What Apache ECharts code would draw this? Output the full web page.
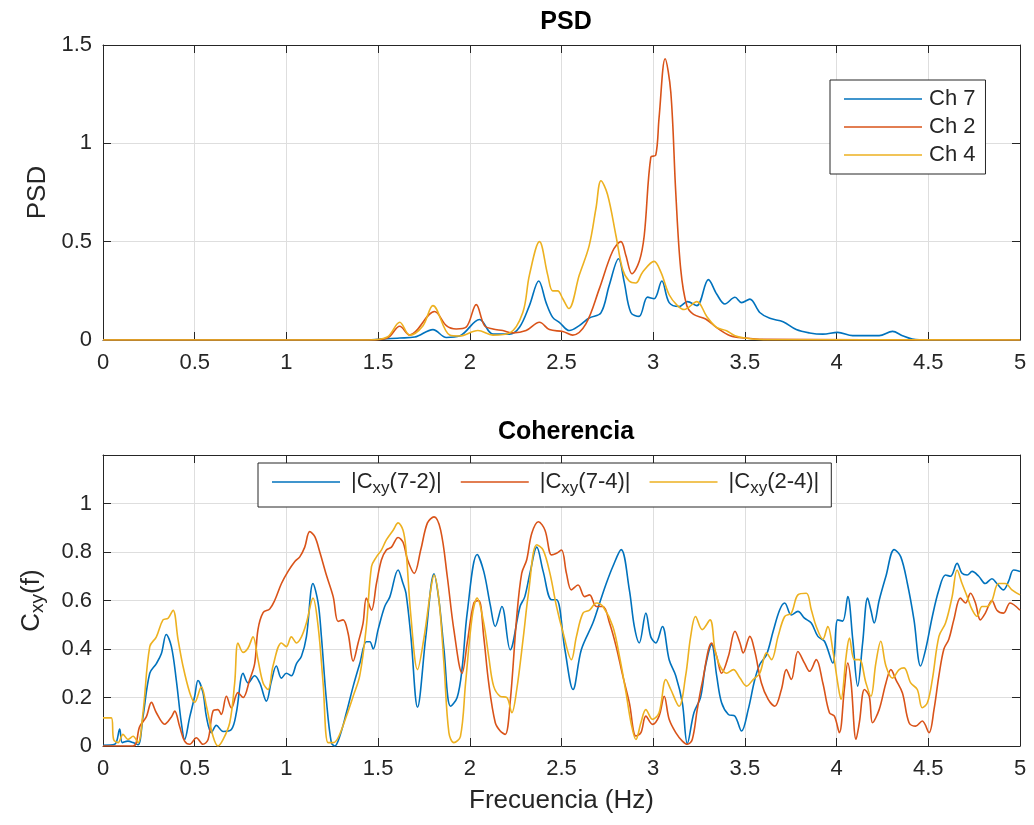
<!DOCTYPE html>
<html>
<head>
<meta charset="utf-8">
<script src="https://cdn.jsdelivr.net/npm/echarts@6/dist/echarts.min.js"></script>
<style>
html,body{margin:0;padding:0;background:#fff;}
#chart{width:1034px;height:825px;}
</style>
</head>
<body>
<div id="chart"></div>
<script>
// ---------- DATA ----------
const xTicks = [0, 0.5, 1, 1.5, 2, 2.5, 3, 3.5, 4, 4.5, 5];
const psdTicks = [0, 0.5, 1, 1.5];
const cohTicks = [0, 0.2, 0.4, 0.6, 0.8, 1];

const psdNames = ['Ch 7', 'Ch 2', 'Ch 4'];
const cohNames = ['|C_xy(7-2)|', '|C_xy(7-4)|', '|C_xy(2-4)|'];

// PSD Ch 7
const psdFreqCh7 = [0,1.40,1.618,1.70,1.799,1.872,1.944,2.053,2.126,2.216,2.271,2.325,2.376,2.416,2.452,2.488,2.543,2.597,2.651,2.715,2.76,2.811,2.842,2.878,2.923,2.969,3.005,3.047,3.087,3.141,3.186,3.238,3.301,3.346,3.391,3.446,3.482,3.527,3.581,3.636,3.708,3.78,3.853,3.925,4.006,4.088,4.16,4.232,4.305,4.359,4.413,4.5,5];
const psdValCh7  = [0,0,0.01,0.015,0.053,0.013,0.02,0.104,0.03,0.03,0.065,0.175,0.30,0.19,0.115,0.09,0.048,0.073,0.112,0.138,0.277,0.413,0.294,0.14,0.12,0.218,0.21,0.30,0.19,0.17,0.195,0.175,0.307,0.234,0.183,0.217,0.19,0.208,0.14,0.11,0.093,0.053,0.036,0.03,0.039,0.022,0.022,0.022,0.044,0.022,0.005,0,0];
// PSD Ch 2
const psdFreqCh2 = [0,1.45,1.55,1.618,1.672,1.808,1.872,1.926,1.98,2.035,2.08,2.126,2.18,2.235,2.307,2.38,2.434,2.507,2.561,2.633,2.706,2.778,2.824,2.851,2.884,2.924,2.951,2.987,3.014,3.032,3.065,3.096,3.123,3.15,3.183,3.22,3.286,3.35,3.42,3.5,3.6,5];
const psdValCh2  = [0,0,0.01,0.07,0.025,0.145,0.073,0.056,0.065,0.18,0.073,0.056,0.048,0.036,0.048,0.09,0.053,0.043,0.025,0.082,0.26,0.45,0.50,0.43,0.337,0.40,0.53,0.93,0.94,1.13,1.43,1.26,0.75,0.36,0.175,0.13,0.107,0.06,0.022,0.01,0.003,0];
// PSD Ch 4
const psdFreqCh4 = [0,1.45,1.55,1.618,1.672,1.745,1.799,1.89,1.944,2.044,2.126,2.216,2.289,2.325,2.38,2.425,2.452,2.479,2.507,2.54,2.597,2.651,2.688,2.715,2.751,2.797,2.833,2.869,2.905,2.942,3.005,3.042,3.087,3.132,3.169,3.238,3.292,3.346,3.4,3.446,3.5,3.6,5];
const psdValCh4  = [0,0,0.015,0.09,0.025,0.073,0.175,0.025,0.02,0.048,0.025,0.035,0.14,0.33,0.50,0.33,0.25,0.25,0.21,0.16,0.33,0.48,0.67,0.81,0.74,0.53,0.36,0.30,0.29,0.345,0.40,0.345,0.23,0.175,0.155,0.195,0.12,0.064,0.047,0.022,0.01,0.002,0];

// Coherence |Cxy(7-2)|
const cohFreq72 = [0,0.064,0.091,0.105,0.136,0.164,0.191,0.218,0.255,0.291,0.318,0.345,0.373,0.40,0.427,0.445,0.473,0.50,0.518,0.545,0.564,0.591,0.618,0.655,0.70,0.727,0.764,0.791,0.827,0.855,0.891,0.918,0.945,0.973,1.0,1.027,1.055,1.082,1.109,1.145,1.173,1.191,1.218,1.245,1.264,1.291,1.327,1.364,1.40,1.436,1.455,1.473,1.50,1.536,1.564,1.609,1.636,1.652,1.679,1.715,1.76,1.805,1.832,1.859,1.895,1.931,1.958,1.986,2.04,2.076,2.112,2.139,2.175,2.22,2.274,2.30,2.33,2.365,2.40,2.446,2.473,2.518,2.563,2.608,2.671,2.708,2.744,2.78,2.825,2.87,2.897,2.924,2.96,2.987,3.014,3.05,3.087,3.123,3.159,3.186,3.222,3.258,3.285,3.319,3.346,3.373,3.41,3.446,3.482,3.518,3.554,3.581,3.618,3.654,3.69,3.717,3.753,3.789,3.825,3.862,3.898,3.934,3.979,4.006,4.033,4.061,4.088,4.115,4.142,4.169,4.187,4.205,4.232,4.269,4.314,4.35,4.386,4.422,4.458,4.486,4.522,4.558,4.594,4.621,4.657,4.684,4.712,4.739,4.775,4.811,4.847,4.874,4.91,4.938,4.965,5.0];
const cohVal72  = [0.003,0.007,0.07,0.014,0.02,0.014,0.005,0.12,0.30,0.34,0.38,0.46,0.41,0.27,0.096,0.027,0.12,0.205,0.27,0.22,0.12,0.055,0.085,0.06,0.068,0.137,0.30,0.26,0.29,0.26,0.185,0.267,0.33,0.28,0.30,0.29,0.34,0.37,0.45,0.67,0.59,0.45,0.19,0.014,0.0,0.04,0.137,0.246,0.34,0.43,0.43,0.40,0.48,0.575,0.615,0.726,0.67,0.63,0.45,0.16,0.45,0.71,0.60,0.40,0.164,0.20,0.32,0.55,0.79,0.72,0.58,0.493,0.575,0.397,0.575,0.616,0.72,0.82,0.72,0.603,0.603,0.40,0.233,0.397,0.507,0.59,0.67,0.74,0.81,0.644,0.493,0.425,0.548,0.45,0.425,0.493,0.356,0.29,0.178,0.01,0.137,0.20,0.33,0.418,0.29,0.178,0.13,0.123,0.062,0.15,0.274,0.336,0.377,0.473,0.562,0.59,0.54,0.555,0.527,0.507,0.452,0.432,0.342,0.52,0.515,0.616,0.44,0.247,0.425,0.61,0.56,0.507,0.60,0.70,0.81,0.78,0.67,0.52,0.33,0.40,0.534,0.644,0.705,0.70,0.753,0.712,0.705,0.72,0.70,0.67,0.69,0.67,0.644,0.68,0.726,0.72];

// Coherence |Cxy(7-4)|
const cohFreq74 = [0,0.164,0.20,0.236,0.264,0.291,0.336,0.373,0.391,0.418,0.445,0.473,0.509,0.545,0.573,0.60,0.627,0.645,0.673,0.70,0.736,0.764,0.80,0.827,0.845,0.873,0.909,0.936,0.973,1.009,1.045,1.073,1.10,1.127,1.155,1.182,1.218,1.255,1.282,1.309,1.336,1.364,1.391,1.418,1.436,1.464,1.491,1.518,1.545,1.573,1.609,1.636,1.661,1.697,1.733,1.769,1.805,1.841,1.877,1.913,1.958,1.986,2.022,2.049,2.076,2.103,2.139,2.166,2.193,2.22,2.256,2.283,2.31,2.338,2.374,2.41,2.446,2.473,2.50,2.527,2.554,2.59,2.626,2.653,2.69,2.726,2.762,2.798,2.834,2.87,2.906,2.933,2.96,2.996,3.032,3.06,3.087,3.123,3.159,3.186,3.213,3.24,3.267,3.319,3.346,3.373,3.41,3.446,3.473,3.491,3.527,3.554,3.59,3.627,3.663,3.699,3.726,3.753,3.789,3.825,3.853,3.889,3.925,3.961,3.988,4.015,4.042,4.061,4.079,4.106,4.124,4.152,4.178,4.196,4.232,4.269,4.296,4.323,4.359,4.395,4.431,4.467,4.504,4.531,4.558,4.585,4.612,4.639,4.675,4.703,4.73,4.757,4.784,4.811,4.847,4.874,4.91,4.946,5.0];
const cohVal74  = [0.0,0.0,0.08,0.12,0.18,0.137,0.09,0.12,0.144,0.08,0.02,0.007,0.034,0.007,0.027,0.144,0.15,0.13,0.205,0.157,0.22,0.20,0.274,0.34,0.48,0.55,0.565,0.60,0.67,0.72,0.76,0.78,0.82,0.884,0.863,0.80,0.705,0.616,0.514,0.52,0.466,0.35,0.425,0.507,0.61,0.56,0.67,0.767,0.808,0.82,0.86,0.84,0.767,0.712,0.81,0.92,0.945,0.89,0.70,0.48,0.30,0.425,0.59,0.60,0.45,0.26,0.096,0.062,0.048,0.18,0.534,0.712,0.767,0.877,0.925,0.89,0.788,0.795,0.808,0.712,0.644,0.664,0.616,0.623,0.575,0.575,0.507,0.41,0.29,0.178,0.041,0.055,0.123,0.089,0.123,0.205,0.11,0.055,0.02,0.007,0.027,0.15,0.26,0.425,0.37,0.30,0.37,0.473,0.425,0.384,0.452,0.39,0.26,0.192,0.164,0.233,0.315,0.274,0.39,0.342,0.308,0.356,0.26,0.137,0.123,0.055,0.233,0.342,0.26,0.027,0.096,0.233,0.205,0.096,0.15,0.26,0.315,0.274,0.219,0.096,0.082,0.103,0.055,0.15,0.29,0.40,0.44,0.52,0.61,0.59,0.63,0.59,0.52,0.548,0.60,0.56,0.548,0.59,0.56];

// Coherence |Cxy(2-4)|
const cohFreq24 = [0,0.045,0.058,0.082,0.109,0.136,0.164,0.191,0.218,0.255,0.291,0.327,0.355,0.382,0.409,0.436,0.473,0.50,0.536,0.564,0.60,0.627,0.655,0.691,0.718,0.736,0.764,0.791,0.818,0.845,0.873,0.90,0.927,0.973,1.0,1.027,1.055,1.082,1.109,1.145,1.173,1.20,1.227,1.255,1.282,1.327,1.364,1.40,1.436,1.464,1.491,1.518,1.545,1.582,1.609,1.636,1.652,1.679,1.715,1.751,1.787,1.805,1.832,1.859,1.886,1.913,1.949,1.977,2.013,2.04,2.076,2.103,2.13,2.166,2.202,2.229,2.256,2.292,2.32,2.365,2.40,2.437,2.473,2.509,2.554,2.581,2.617,2.653,2.69,2.726,2.78,2.816,2.852,2.879,2.906,2.933,2.96,2.996,3.032,3.069,3.096,3.141,3.177,3.204,3.231,3.267,3.31,3.337,3.364,3.40,3.437,3.473,3.509,3.545,3.581,3.618,3.645,3.681,3.717,3.753,3.789,3.835,3.862,3.889,3.925,3.952,3.979,4.006,4.024,4.052,4.07,4.097,4.124,4.16,4.187,4.214,4.241,4.269,4.305,4.341,4.368,4.404,4.44,4.467,4.495,4.522,4.558,4.594,4.63,4.657,4.684,4.712,4.739,4.766,4.793,4.82,4.847,4.883,4.92,4.956,5.0];
const cohVal24  = [0.116,0.116,0.027,0.014,0.048,0.027,0.04,0.014,0.137,0.41,0.45,0.52,0.527,0.56,0.44,0.33,0.22,0.18,0.244,0.164,0.04,0.0,0.027,0.096,0.26,0.425,0.386,0.404,0.45,0.356,0.26,0.233,0.33,0.425,0.41,0.45,0.425,0.45,0.507,0.61,0.493,0.26,0.014,0.014,0.034,0.123,0.205,0.29,0.493,0.74,0.78,0.808,0.85,0.89,0.92,0.89,0.81,0.534,0.315,0.45,0.644,0.705,0.60,0.34,0.055,0.014,0.04,0.26,0.534,0.61,0.507,0.37,0.247,0.205,0.20,0.137,0.233,0.45,0.63,0.83,0.808,0.712,0.575,0.466,0.356,0.45,0.548,0.56,0.59,0.575,0.493,0.37,0.219,0.096,0.027,0.096,0.15,0.11,0.137,0.274,0.233,0.164,0.29,0.45,0.534,0.48,0.52,0.397,0.33,0.30,0.315,0.28,0.247,0.274,0.30,0.384,0.356,0.452,0.534,0.548,0.623,0.63,0.562,0.493,0.44,0.493,0.397,0.26,0.192,0.37,0.445,0.356,0.356,0.26,0.205,0.342,0.432,0.33,0.28,0.315,0.322,0.26,0.233,0.158,0.178,0.274,0.452,0.507,0.616,0.726,0.67,0.616,0.562,0.534,0.575,0.575,0.60,0.67,0.67,0.644,0.623];

// ---------- CHART ----------
const colors = ['#0072BD', '#D95319', '#EDB120'];
const FONT = 'Liberation Sans, Arial, sans-serif';
const TXT = '#262626';
const zip = (f, v) => f.map((x, i) => [x, v[i]]);
const subFmt = s => s.replace('_xy', '{sub|xy}');

const psdSeriesData = [zip(psdFreqCh7, psdValCh7), zip(psdFreqCh2, psdValCh2), zip(psdFreqCh4, psdValCh4)];
const cohSeriesData = [zip(cohFreq72, cohVal72), zip(cohFreq74, cohVal74), zip(cohFreq24, cohVal24)];

function mainX(gi, showLabel, name) {
  return {
    type: 'value', gridIndex: gi, min: 0, max: 5, interval: 0.5, position: 'bottom',
    axisLine: {show: true, onZero: false, lineStyle: {color: TXT, width: 1}},
    axisTick: {show: true, inside: true, length: 8, lineStyle: {color: TXT}},
    axisLabel: {show: showLabel, color: TXT, fontSize: 22, fontFamily: FONT, margin: 12},
    splitLine: {show: true, lineStyle: {color: '#dedede', width: 1}},
    name: name || '', nameLocation: 'middle', nameGap: 42,
    nameTextStyle: {color: TXT, fontSize: 26, fontFamily: FONT}
  };
}
function boxX(gi) {
  return {
    type: 'value', gridIndex: gi, min: 0, max: 5, interval: 0.5, position: 'top',
    axisLine: {show: true, onZero: false, lineStyle: {color: TXT, width: 1}},
    axisTick: {show: true, inside: true, length: 8, lineStyle: {color: TXT}},
    axisLabel: {show: false}, splitLine: {show: false}
  };
}
function mainY(gi, max, interval, name, labelFmt) {
  return {
    type: 'value', gridIndex: gi, min: 0, max: max, interval: interval, position: 'left',
    axisLine: {show: true, onZero: false, lineStyle: {color: TXT, width: 1}},
    axisTick: {show: true, inside: true, length: 8, lineStyle: {color: TXT}},
    axisLabel: {color: TXT, fontSize: 22, fontFamily: FONT, margin: 11, formatter: labelFmt},
    splitLine: {show: true, lineStyle: {color: '#dedede', width: 1}},
    name: name, nameLocation: 'middle', nameRotate: 90,
    nameTextStyle: {color: TXT, fontSize: 26, fontFamily: FONT,
      rich: {sub: {fontSize: 19, fontFamily: FONT, color: TXT, padding: [12, 0, 0, 0]}}}
  };
}
function boxY(gi, max, interval) {
  return {
    type: 'value', gridIndex: gi, min: 0, max: max, interval: interval, position: 'right',
    axisLine: {show: true, onZero: false, lineStyle: {color: TXT, width: 1}},
    axisTick: {show: true, inside: true, length: 8, lineStyle: {color: TXT}},
    axisLabel: {show: false}, splitLine: {show: false}
  };
}

const yPsd = mainY(0, 1.5, 0.5, 'PSD');
yPsd.nameGap = 50;
const yCoh = mainY(1, 1.2, 0.2, 'C{sub|xy}(f)', v => (v > 1.05 ? '' : String(+v.toFixed(1))));
yCoh.nameGap = 56;

const series = [];
psdNames.forEach((n, i) => series.push({
  name: n, type: 'line', xAxisIndex: 0, yAxisIndex: 0, data: psdSeriesData[i],
  symbol: 'none', smooth: 0.35, lineStyle: {width: 1.6, color: colors[i]}, itemStyle: {color: colors[i]},
  z: 3 + i
}));
cohNames.forEach((n, i) => series.push({
  name: n, type: 'line', xAxisIndex: 2, yAxisIndex: 2, data: cohSeriesData[i],
  symbol: 'none', smooth: 0.35, lineStyle: {width: 1.6, color: colors[i]}, itemStyle: {color: colors[i]},
  z: 3 + i
}));

const option = {
  backgroundColor: '#ffffff',
  animation: false,
  title: [
    {text: 'PSD', left: 561, top: 5, textAlign: 'center',
     textStyle: {fontSize: 25, fontWeight: 'bold', color: '#000', fontFamily: FONT}},
    {text: 'Coherencia', left: 561, top: 415, textAlign: 'center',
     textStyle: {fontSize: 25, fontWeight: 'bold', color: '#000', fontFamily: FONT}}
  ],
  grid: [
    {left: 103, right: 14, top: 45, height: 295, show: true, backgroundColor: '#fff', borderWidth: 0},
    {left: 103, right: 14, top: 455, height: 291, show: true, backgroundColor: '#fff', borderWidth: 0}
  ],
  xAxis: [mainX(0, true), boxX(0), mainX(1, true, 'Frecuencia (Hz)'), boxX(1)],
  yAxis: [yPsd, boxY(0, 1.5, 0.5), yCoh, boxY(1, 1.2, 0.2)],
  legend: [
    {data: psdNames, orient: 'vertical', left: 830, top: 80,
     padding: [8, 10, 8, 14], itemWidth: 78, itemHeight: 1.6, itemGap: 6, icon: 'rect',
     backgroundColor: '#fff', borderColor: TXT, borderWidth: 1, selectedMode: false,
     textStyle: {color: TXT, fontSize: 22, fontFamily: FONT, padding: [0, 0, 0, 2]}},
    {data: cohNames, orient: 'horizontal', left: 258, top: 463,
     padding: [8, 12, 10, 14], itemWidth: 68, itemHeight: 1.6, itemGap: 19, icon: 'rect',
     backgroundColor: '#fff', borderColor: TXT, borderWidth: 1, selectedMode: false,
     formatter: subFmt,
     textStyle: {color: TXT, fontSize: 22, fontFamily: FONT, padding: [0, 0, 0, 6],
       rich: {sub: {fontSize: 17, fontFamily: FONT, color: TXT, padding: [13, 0, 0, 0]}}}}
  ],
  series: series
};

const chart = echarts.init(document.getElementById('chart'), null, {renderer: 'canvas'});
chart.setOption(option);
</script>
</body>
</html>
